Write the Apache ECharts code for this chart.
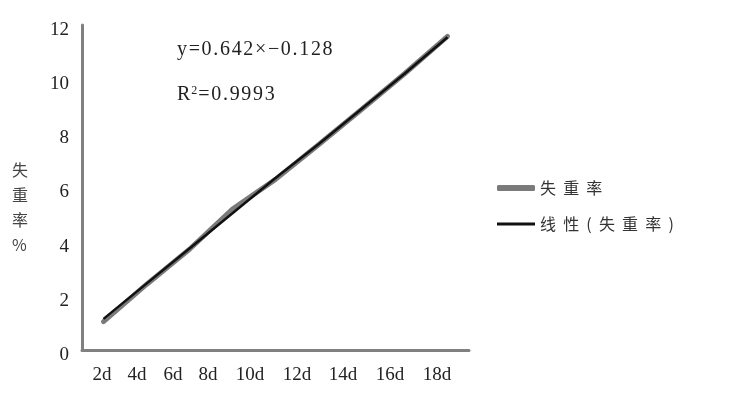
<!DOCTYPE html>
<html>
<head>
<meta charset="utf-8">
<script src="https://cdn.jsdelivr.net/npm/echarts@6/dist/echarts.min.js"></script>
<style>html,body{margin:0;padding:0;background:#fff;}#c{width:736px;height:407px;}</style>
</head>
<body>
<div id="c"></div>
<script>
const categories = ['2d', '4d', '6d', '8d', '10d', '12d', '14d', '16d', '18d'];
const lossRate = [1.05, 2.42, 3.72, 5.2, 6.3, 7.58, 8.88, 10.2, 11.58];
const trendLine = [1.15, 2.45, 3.75, 5.05, 6.35, 7.6, 8.9, 10.2, 11.55];
const yTicks = { min: 0, max: 12, interval: 2 };
const equationText = 'y=0.642×−0.128';
const r2Value = '0.9993';
const seriesNames = ['失重率', '线性(失重率)'];

const serif = '"Liberation Serif", "DejaVu Serif", serif';
const cjk = '"Noto Sans CJK SC", sans-serif';
const hair = '\u200A';
const spread = s => s.split('').join(hair);

// per-label leftward shift to mimic the reference's text-flow label placement
const labelShift = [1.5, 9.5, 16.5, 24.5, 25.5, 21.5, 18.5, 14.5, 10.5];
const rich = {};
labelShift.forEach((s, i) => {
  rich['p' + i] = { fontFamily: serif, fontSize: 19, color: '#222', padding: [0, 2 * s, 0, 0] };
});

const legendText = { fontFamily: cjk, fontSize: 16, color: '#333' };
const legendFmt = name => name.split('').join('  ');

const chart = echarts.init(document.getElementById('c'));
chart.setOption({
  animation: false,
  backgroundColor: '#fff',
  grid: { left: 82, right: 267, top: 25, bottom: 57, containLabel: false },
  xAxis: {
    type: 'category',
    data: categories,
    boundaryGap: true,
    axisLine: { lineStyle: { color: '#808080', width: 3 } },
    axisTick: { show: false },
    axisLabel: {
      interval: 0,
      margin: 16,
      formatter: (v, i) => '{p' + i + '|' + v + '}',
      rich: rich
    },
    splitLine: { show: false }
  },
  yAxis: {
    type: 'value',
    min: yTicks.min,
    max: yTicks.max,
    interval: yTicks.interval,
    axisLine: { show: true, lineStyle: { color: '#808080', width: 3 } },
    axisTick: { show: false },
    splitLine: { show: false },
    axisLabel: {
      margin: 13,
      formatter: v => '{y|' + v + '}',
      rich: { y: { fontFamily: serif, fontSize: 19, color: '#222', padding: [10, 0, 0, 0] } }
    }
  },
  legend: [
    {
      orient: 'vertical', left: 497, top: 180, padding: 0,
      itemWidth: 38, itemHeight: 6, icon: 'roundRect',
      data: [seriesNames[0]],
      formatter: legendFmt, textStyle: legendText
    },
    {
      orient: 'vertical', left: 497, top: 216, padding: 0,
      itemWidth: 38, itemHeight: 3, icon: 'rect',
      data: [seriesNames[1]],
      formatter: legendFmt, textStyle: legendText
    }
  ],
  graphic: [
    {
      type: 'text', left: 12, top: 157,
      style: { text: '失\n重\n率\n%', fontFamily: cjk, fontSize: 16, lineHeight: 25, fill: '#444', align: 'left' }
    },
    {
      type: 'text', left: 177, top: 40,
      style: { text: spread(equationText), fontFamily: serif, fontSize: 20, fill: '#222' }
    },
    {
      type: 'text', left: 177, top: 85,
      style: {
        text: 'R{sup|2}' + spread('=' + r2Value),
        rich: { sup: { fontFamily: serif, fontSize: 12, fill: '#222', verticalAlign: 'top', padding: [0, 1, 8, 1] } },
        fontFamily: serif, fontSize: 20, fill: '#222'
      }
    }
  ],
  series: [
    {
      name: seriesNames[0],
      type: 'line',
      data: lossRate,
      symbol: 'none',
      lineStyle: { color: '#7a7a7a', width: 5, cap: 'round' },
      itemStyle: { color: '#7a7a7a' },
      z: 2
    },
    {
      name: seriesNames[1],
      type: 'line',
      data: trendLine,
      symbol: 'none',
      lineStyle: { color: '#111', width: 2.5 },
      itemStyle: { color: '#111' },
      z: 3
    }
  ]
});
</script>
</body>
</html>
